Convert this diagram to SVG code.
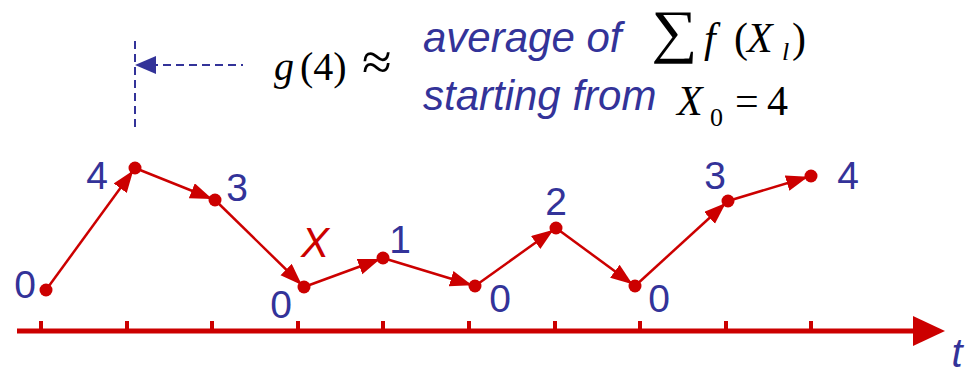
<svg xmlns="http://www.w3.org/2000/svg" width="970" height="373" viewBox="0 0 970 373">
<defs>
<style>
.lbl{font-family:"Liberation Sans",Arial,sans-serif;font-size:39px;fill:#333399;text-anchor:middle}
.it{font-family:"Liberation Sans",Arial,sans-serif;font-style:italic;font-size:42px;fill:#333399}
.math{font-family:"Liberation Serif","Times New Roman",serif;fill:#000}
.seg{stroke:#CC0000;stroke-width:2.5;fill:none;marker-end:url(#ah)}
.dot{fill:#CC0000}
.tick{fill:#CC0000}
.dash{stroke:#333399;stroke-width:2;fill:none;stroke-dasharray:8 5}
</style>
<marker id="ah" markerUnits="userSpaceOnUse" markerWidth="26" markerHeight="18" refX="25" refY="8" orient="auto">
<path d="M0,0 L22,8 L0,16 z" fill="#CC0000"/>
</marker>
</defs>
<rect width="970" height="373" fill="#fff"/>

<g id="axis">
<rect x="17" y="328.5" width="900" height="5" fill="#CC0000"/>
<polygon points="913,316 945,331 913,346" fill="#CC0000"/>
<rect class="tick" x="39" y="321" width="4" height="10"/>
<rect class="tick" x="125" y="321" width="4" height="10"/>
<rect class="tick" x="210" y="321" width="4" height="10"/>
<rect class="tick" x="296" y="321" width="4" height="10"/>
<rect class="tick" x="381" y="321" width="4" height="10"/>
<rect class="tick" x="467" y="321" width="4" height="10"/>
<rect class="tick" x="553" y="321" width="4" height="10"/>
<rect class="tick" x="638" y="321" width="4" height="10"/>
<rect class="tick" x="724" y="321" width="4" height="10"/>
<rect class="tick" x="809" y="321" width="4" height="10"/>
<text x="957" y="367" class="it" style="font-size:40px;text-anchor:middle">t</text>
</g>

<g id="connectors">
<line class="seg" x1="46" y1="290" x2="135" y2="168"/>
<line class="seg" x1="135" y1="168" x2="215" y2="200"/>
<line class="seg" x1="215" y1="200" x2="304" y2="287"/>
<line class="seg" x1="304" y1="287" x2="383" y2="258"/>
<line class="seg" x1="383" y1="258" x2="475" y2="286"/>
<line class="seg" x1="475" y1="286" x2="556" y2="228"/>
<line class="seg" x1="556" y1="228" x2="635" y2="286"/>
<line class="seg" x1="635" y1="286" x2="728" y2="201"/>
<line class="seg" x1="728" y1="201" x2="811" y2="176"/>
<line class="dash" x1="135" y1="41" x2="135" y2="127"/>
<line class="dash" x1="150" y1="65" x2="243" y2="65"/>
<polygon points="135,65 156,56 156,74" fill="#333399"/>
</g>

<g id="n0"><circle class="dot" cx="46" cy="290" r="6.5"/><text class="lbl" x="25" y="298">0</text></g>
<g id="n1"><circle class="dot" cx="135" cy="168" r="6.5"/><text class="lbl" x="97" y="189">4</text></g>
<g id="n2"><circle class="dot" cx="215" cy="200" r="6.5"/><text class="lbl" x="237" y="201">3</text></g>
<g id="n3"><circle class="dot" cx="304" cy="287" r="6.5"/><text class="lbl" x="281" y="318">0</text>
<text x="301" y="257" style="font-family:'Liberation Sans',Arial,sans-serif;font-style:italic;font-size:42px;fill:#CC0000">X</text></g>
<g id="n4"><circle class="dot" cx="383" cy="258" r="6.5"/><text class="lbl" x="400" y="253">1</text></g>
<g id="n5"><circle class="dot" cx="475" cy="286" r="6.5"/><text class="lbl" x="500" y="312">0</text></g>
<g id="n6"><circle class="dot" cx="556" cy="228" r="6.5"/><text class="lbl" x="556" y="215">2</text></g>
<g id="n7"><circle class="dot" cx="635" cy="286" r="6.5"/><text class="lbl" x="659" y="312">0</text></g>
<g id="n8"><circle class="dot" cx="728" cy="201" r="6.5"/><text class="lbl" x="715" y="189">3</text></g>
<g id="n9"><circle class="dot" cx="811" cy="176" r="6.5"/><text class="lbl" x="848" y="189">4</text></g>

<g id="caption">
<text class="math" y="80" style="font-size:40px"><tspan x="274" font-style="italic">g</tspan><tspan x="300">(4)</tspan><tspan x="362" style="font-size:54px">≈</tspan></text>
<text class="it" x="423" y="52">average of</text>
<text class="it" x="423" y="110">starting from</text>
<text class="math" transform="translate(651,51) scale(1.1,1)" x="0" y="0" style="font-size:59px">∑</text>
<text class="math" y="52" style="font-size:42px"><tspan x="704" font-style="italic">f</tspan><tspan x="734">(</tspan><tspan x="747" font-style="italic">X</tspan><tspan x="782" y="60" font-style="italic" style="font-size:26px">l</tspan><tspan x="792" y="52">)</tspan></text>
<text class="math" y="115" style="font-size:42px"><tspan x="677" font-style="italic">X</tspan><tspan x="710" y="126" style="font-size:26px">0</tspan><tspan x="735" y="115">=</tspan><tspan x="767">4</tspan></text>
</g>
</svg>
